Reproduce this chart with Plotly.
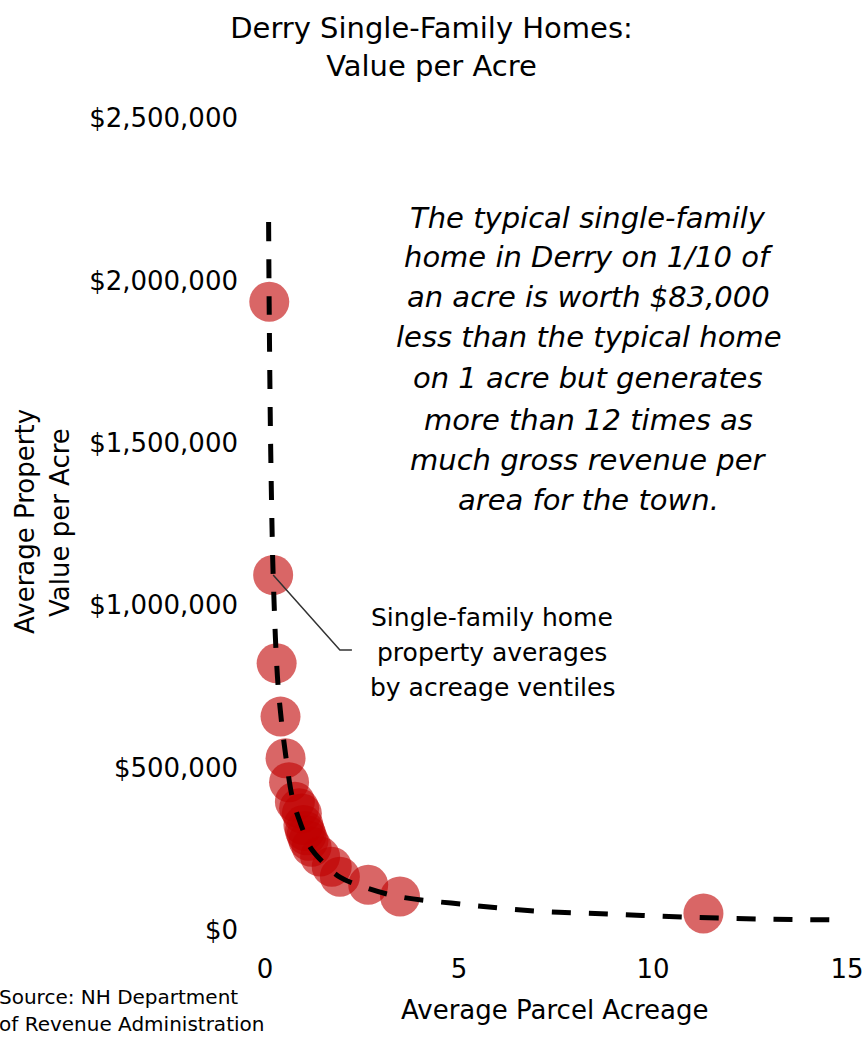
import plotly.graph_objects as go

# Data: ventile averages (acreage, value per acre)
acreage = [0.11, 0.21, 0.30, 0.40, 0.53, 0.62, 0.77, 0.88, 0.95, 0.99,
           1.03, 1.07, 1.12, 1.20, 1.42, 1.72, 1.93, 2.66, 3.48, 11.3]
value_per_acre = [1934000, 1093000, 821000, 657000, 529000, 455000, 395000, 375000, 359000, 323000,
                  305000, 292000, 275000, 256000, 226000, 195000, 164000, 139000, 103000, 51000]

# Trend line
trend_x = [0.093, 0.107, 0.142, 0.186, 0.21, 0.34, 0.55, 0.72, 0.95, 1.16,
           1.49, 1.93, 2.63, 3.48, 5.03, 6.96, 8.89, 10.77, 12.76, 15.0]
trend_y = [2180000, 1930000, 1520000, 1210000, 1093000, 748000, 523000, 400000, 317000, 256000,
           209000, 163000, 129000, 102000, 80000, 58500, 49000, 40000, 34000, 30800]

y_ticks = [0, 500000, 1000000, 1500000, 2000000, 2500000]
y_tick_labels = ["$0", "$500,000", "$1,000,000", "$1,500,000", "$2,000,000", "$2,500,000"]
x_ticks = [0, 5, 10, 15]

title_text = "Derry Single-Family Homes:<br>Value per Acre"
note_lines = ["The typical single-family", "home in Derry on 1/10 of", "an acre is worth $83,000",
              "less than the typical home", "on 1 acre but generates", "more than 12 times as",
              "much gross revenue per", "area for the town."]
callout_lines = ["Single-family home", "property averages", "by acreage ventiles"]
ytitle_lines = ["Average Property", "Value per Acre"]
source_lines = ["Source: NH Department", "of Revenue Administration"]

FONT = "DejaVu Sans"
W, H = 863, 1038
ML, MR, MT, MB = 265, 16, 118, 108
PW, PH = W - ML - MR, H - MT - MB


def px_x(p):
    return (p - ML) / PW


def px_y(p):
    return (H - MB - p) / PH


fig = go.Figure()
fig.add_trace(go.Scatter(
    x=acreage, y=value_per_acre, mode="markers",
    marker=dict(size=40, color="rgba(192,0,0,0.6)", line=dict(width=0)),
    cliponaxis=False, showlegend=False, hoverinfo="x+y"))
fig.add_trace(go.Scatter(
    x=trend_x, y=trend_y, mode="lines",
    line=dict(color="black", width=5, dash="19px,18px", shape="spline", smoothing=1.0),
    cliponaxis=False, showlegend=False, hoverinfo="skip"))

# connector from the second point to the callout
fig.add_shape(type="path",
              path=f"M {acreage[1]},{value_per_acre[1]} L 1.93,862000 L 2.24,862000",
              xref="x", yref="y", line=dict(color="#333333", width=1.5))

annotations = []
note_y = [218, 257, 297, 337, 378, 420, 460, 500]
for line, py in zip(note_lines, note_y):
    annotations.append(dict(text=line, x=px_x(588), y=px_y(py), xref="paper", yref="paper",
                            xanchor="center", yanchor="middle", showarrow=False,
                            font=dict(family=FONT, size=29, color="black", style="italic")))
callout_y = [617, 652, 687]
for line, py in zip(callout_lines, callout_y):
    annotations.append(dict(text=line, x=px_x(492), y=px_y(py), xref="paper", yref="paper",
                            xanchor="center", yanchor="middle", showarrow=False,
                            font=dict(family=FONT, size=25, color="black")))
for line, pxx in zip(ytitle_lines, [25, 60]):
    annotations.append(dict(text=line, x=px_x(pxx), y=px_y(522), xref="paper", yref="paper",
                            xanchor="center", yanchor="middle", showarrow=False, textangle=-90,
                            font=dict(family=FONT, size=26, color="black")))
annotations.append(dict(text="Average Parcel Acreage", x=px_x(555), y=px_y(1010), xref="paper",
                        yref="paper", xanchor="center", yanchor="middle", showarrow=False,
                        font=dict(family=FONT, size=26, color="black")))
for line, py in zip(source_lines, [997, 1024]):
    annotations.append(dict(text=line, x=px_x(-3), y=px_y(py), xref="paper", yref="paper",
                            xanchor="left", yanchor="middle", align="left", showarrow=False,
                            font=dict(family=FONT, size=20, color="black")))

fig.update_layout(
    width=W, height=H,
    margin=dict(l=ML, r=MR, t=MT, b=MB, autoexpand=False),
    paper_bgcolor="white", plot_bgcolor="white",
    font=dict(family=FONT, color="black"),
    title=dict(text=title_text, x=0.5, xanchor="center", y=1 - 38 / H, yanchor="middle",
               font=dict(family=FONT, size=29, color="black")),
    xaxis=dict(range=[0, 15], tickvals=x_ticks, showgrid=False, zeroline=False, showline=False,
               ticks="", tickfont=dict(size=26), ticklabelstandoff=21, automargin=False,
               ticklabeloverflow="allow"),
    yaxis=dict(range=[0, 2500000], tickvals=y_ticks, ticktext=y_tick_labels, showgrid=False,
               zeroline=False, showline=False, ticks="", tickfont=dict(size=26),
               ticklabelstandoff=26, automargin=False, ticklabeloverflow="allow"),
    annotations=annotations,
    showlegend=False,
)

fig.write_html("out.html", config={"displayModeBar": False},
               post_script="document.body.style.margin='0';")
